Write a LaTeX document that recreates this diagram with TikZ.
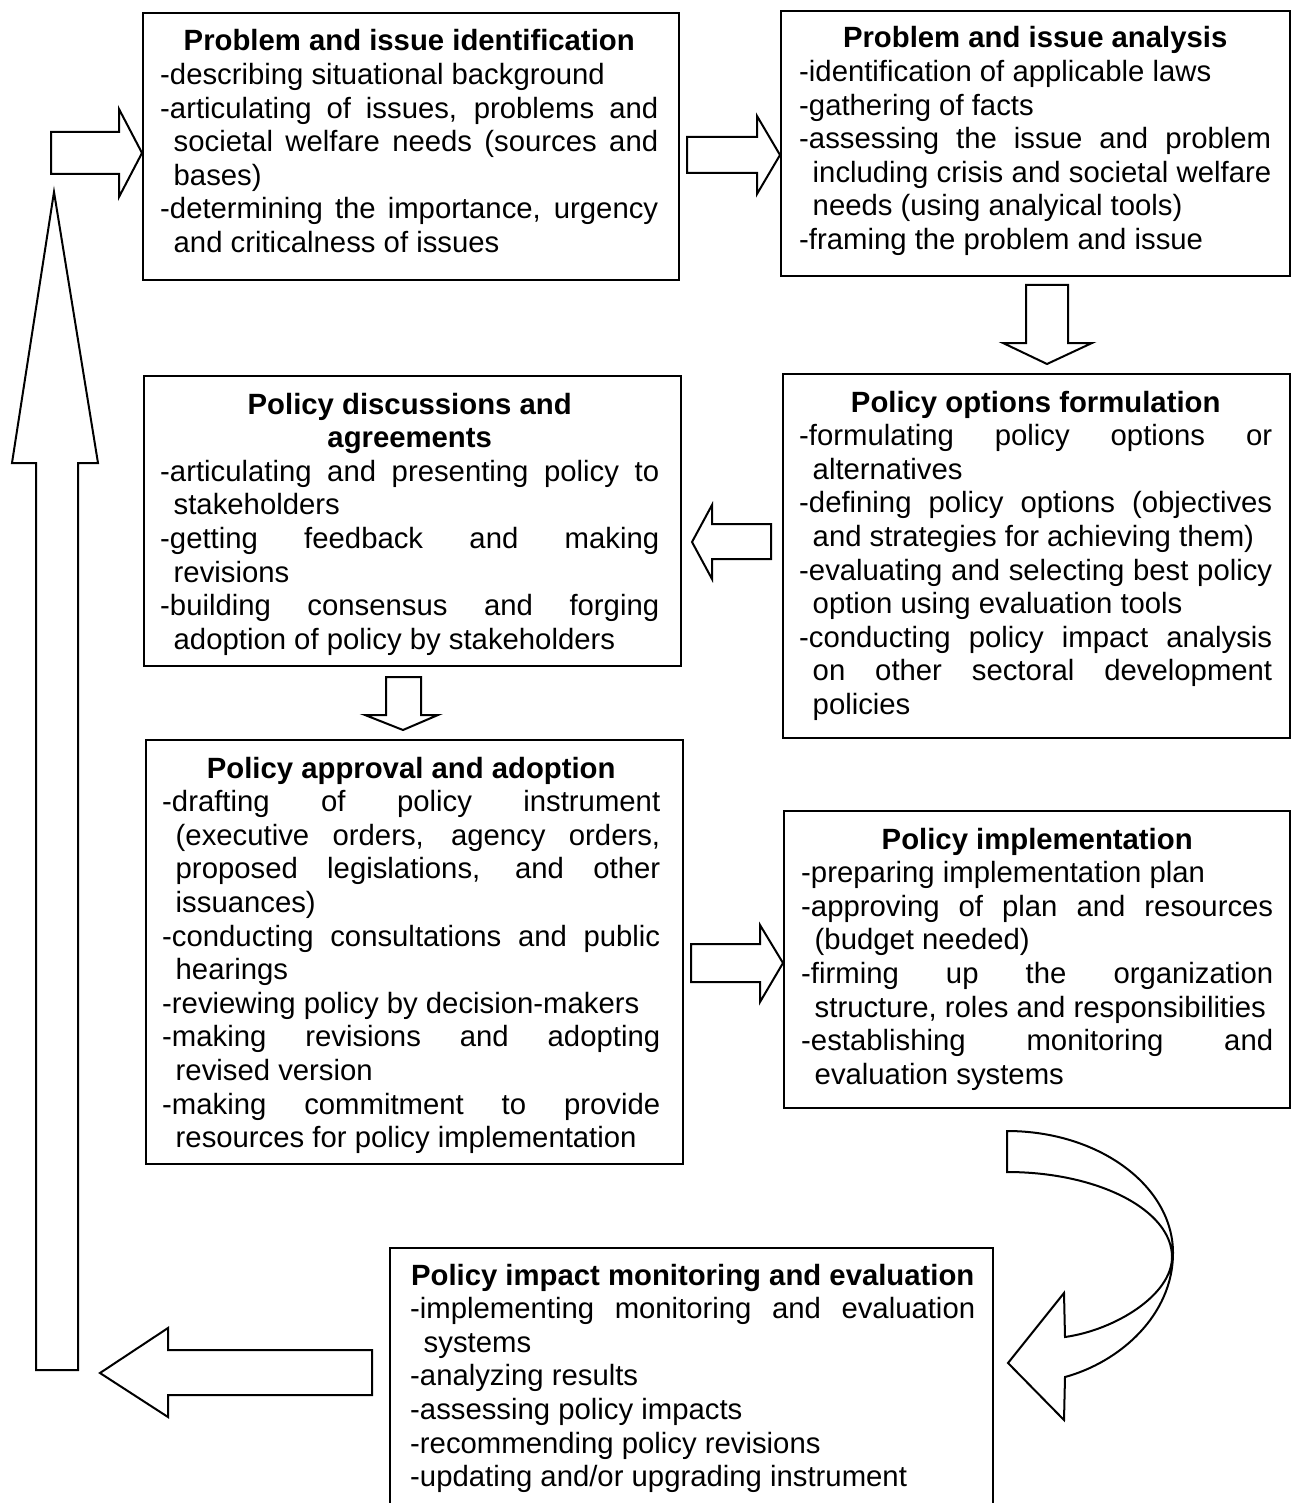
\documentclass[tikz,border=0pt]{standalone}
\usepackage{fontspec}
\setmainfont{Liberation Sans}
\newcommand\ttl[1]{\makebox[\linewidth]{\bfseries #1}\par}
\newcommand\itm[1]{\hangindent=13.5pt\hangafter=1 #1\par}
\tikzset{
  frame/.style={draw, line width=2pt, inner sep=0pt, anchor=north west},
  txt/.style={anchor=base west, inner sep=0pt, align=justify,
    font=\fontsize{29.3}{33.6}\selectfont,
    execute at begin node={\tolerance=10000\hbadness=10000\hyphenpenalty=10000\exhyphenpenalty=10000}},
  barrow/.style={draw, line width=2pt, fill=white, line join=miter}
}
\begin{document}
\begin{tikzpicture}[x=1pt,y=-1pt]
\useasboundingbox (0,0) rectangle (1291,1503);
% frames
\node[frame, minimum width=536, minimum height=267] (b1) at (142,12) {};
\node[frame, minimum width=509, minimum height=265] (b2) at (780,10) {};
\node[frame, minimum width=507, minimum height=364] (b3) at (782,373) {};
\node[frame, minimum width=537, minimum height=290] (b4) at (143,375) {};
\node[frame, minimum width=537, minimum height=424] (b5) at (145,739) {};
\node[frame, minimum width=506, minimum height=297] (b6) at (783,810) {};
\node[frame, minimum width=603, minimum height=275] (b7) at (389,1247) {};
% texts
\node[txt, text width=498pt] (t1) at ([shift={(18,39)}]b1.north west) {%
\ttl{Problem and issue identification}
\itm{-describing situational background}
\itm{-articulating of issues, problems and \linebreak societal welfare needs (sources and \linebreak bases)}
\itm{-determining the importance, urgency \linebreak and criticalness of issues}};
\node[txt, text width=472pt] (t2) at ([shift={(19,38)}]b2.north west) {%
\ttl{Problem and issue analysis}
\itm{-identification of applicable laws}
\itm{-gathering of facts}
\itm{-assessing the issue and problem \linebreak including crisis and societal welfare \linebreak needs (using analyical tools)}
\itm{-framing the problem and issue}};
\node[txt, text width=473pt] (t3) at ([shift={(17,39)}]b3.north west) {%
\ttl{Policy options formulation}
\itm{-formulating policy options or \linebreak alternatives}
\itm{-defining policy options (objectives \linebreak and strategies for achieving them)}
\itm{-evaluating and selecting best policy \linebreak option using evaluation tools}
\itm{-conducting policy impact analysis \linebreak on other sectoral development \linebreak policies}};
\node[txt, text width=499pt] (t4) at ([shift={(17,39)}]b4.north west) {%
\ttl{Policy discussions and}
\ttl{agreements}
\itm{-articulating and presenting policy to \linebreak stakeholders}
\itm{-getting feedback and making \linebreak revisions}
\itm{-building consensus and forging \linebreak adoption of policy by stakeholders}};
\node[txt, text width=498pt] (t5) at ([shift={(17,39)}]b5.north west) {%
\ttl{Policy approval and adoption}
\itm{-drafting of policy instrument \linebreak (executive orders, agency orders, \linebreak proposed legislations, and other \linebreak issuances)}
\itm{-conducting consultations and public \linebreak hearings}
\itm{-reviewing policy by decision-makers}
\itm{-making revisions and adopting \linebreak revised version}
\itm{-making commitment to provide \linebreak resources for policy implementation}};
\node[txt, text width=472pt] (t6) at ([shift={(18,39)}]b6.north west) {%
\ttl{Policy implementation}
\itm{-preparing implementation plan}
\itm{-approving of plan and resources \linebreak (budget needed)}
\itm{-firming up the organization \linebreak structure, roles and responsibilities}
\itm{-establishing monitoring and \linebreak evaluation systems}};
\node[txt, text width=565pt] (t7) at ([shift={(21,38)}]b7.north west) {%
\ttl{Policy impact monitoring and evaluation}
\itm{-implementing monitoring and evaluation \linebreak systems}
\itm{-analyzing results}
\itm{-assessing policy impacts}
\itm{-recommending policy revisions}
\itm{-updating and/or upgrading instrument}};
% block arrows
% into b1
\draw[barrow] (51,132) -- (119,132) -- (119,109) -- (b1.west |- 0,153) -- (119,197) -- (119,174) -- (51,174) -- cycle;
% b1 -> b2
\draw[barrow] (687,137) -- (757,137) -- (757,116) -- (b2.west |- 0,155) -- (757,194) -- (757,173) -- (687,173) -- cycle;
% b2 -> b3
\draw[barrow] (1026,285) -- (1068,285) -- (1068,343) -- (1092,343) -- (1047,364) -- (1003,343) -- (1026,343) -- cycle;
% b3 -> b4
\draw[barrow] (771,524) -- (712,524) -- (712,505) -- (692,542) -- (712,579) -- (712,559) -- (771,559) -- cycle;
% b4 -> b5
\draw[barrow] (386,677) -- (421,677) -- (421,715) -- (438,715) -- (403,730) -- (365,715) -- (386,715) -- cycle;
% b5 -> b6
\draw[barrow] (691,944) -- (760,944) -- (760,925) -- (b6.west |- 0,963) -- (760,1002) -- (760,982) -- (691,982) -- cycle;
% b6 -> b7 curved
\draw[barrow] (1007,1131) .. controls (1099,1131) and (1173,1186) .. (1173,1253)
  .. controls (1173,1315) and (1120,1362) .. (1065,1377)
  -- (1064,1420) -- (1008,1363) -- (1064,1293) -- (1065,1337)
  .. controls (1115,1330) and (1172,1295) .. (1172,1257)
  .. controls (1172,1210) and (1098,1172) .. (1007,1172) -- cycle;
% b7 -> left
\draw[barrow] (372,1350) -- (168,1350) -- (168,1328) -- (100,1373) -- (168,1417) -- (168,1395) -- (372,1395) -- cycle;
% big up arrow
\draw[barrow] (36,1370) -- (36,463) -- (12,463) -- (54,192) -- (98,463) -- (78,463) -- (78,1370) -- cycle;
\end{tikzpicture}
\end{document}
